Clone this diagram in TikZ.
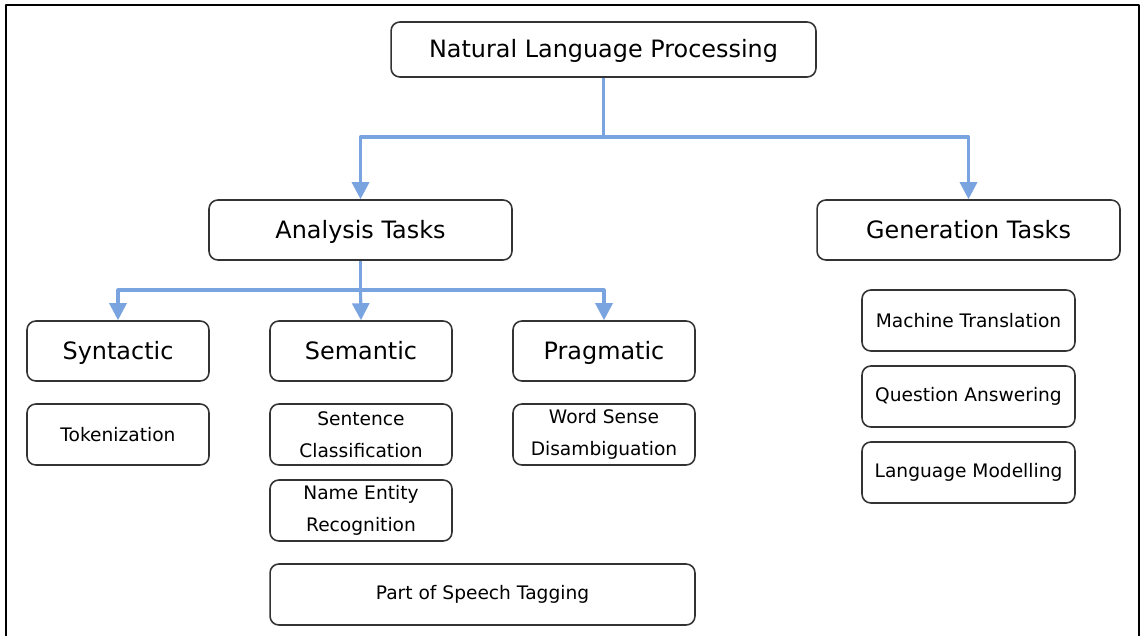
\documentclass[tikz,border=0pt]{standalone}
\usepackage{fontspec}
\setmainfont{DejaVu Sans}
\usetikzlibrary{arrows.meta}
\definecolor{linkblue}{RGB}{122,164,224}
\begin{document}
\begin{tikzpicture}[x=0.02cm,y=-0.02cm,line join=round,
    >={Triangle[width=0.34cm,length=0.34cm]},
    box/.style={draw=black!80,line width=0.9pt,rounded corners=5pt,inner sep=0pt,align=center},
    bigbox/.style={box,minimum width=3.64cm,minimum height=1.2cm,text height=2ex,text depth=0.3ex,font=\fontsize{13.6}{16}\selectfont},
    smallbox/.style={box,minimum width=3.64cm,minimum height=1.22cm,font=\fontsize{10.6}{18}\selectfont},
    genbox/.style={smallbox,minimum width=4.26cm},
    link/.style={draw=linkblue,line width=1.8pt,->}]
	\useasboundingbox (0,0) rectangle (1141,635);
	\draw[line width=1.4pt] (6,640)--(6,5)--(1139,5)--(1139,640);
	% top level
	\node[bigbox,minimum width=8.5cm,minimum height=1.1cm] (nlp) at (603.5,49.5) {Natural Language Processing};
	\node[bigbox,minimum width=6.06cm] (ana) at (360.5,230) {Analysis Tasks};
	\node[bigbox,minimum width=6.06cm] (gen) at (968.5,230) {Generation Tasks};
	% analysis
	\node[bigbox] (syn) at (118,351) {Syntactic};
	\node[bigbox] (sem) at (361,351) {Semantic};
	\node[bigbox] (prag) at (604,351) {Pragmatic};
	\node[smallbox] (tok) at (118,434.5) {Tokenization};
	\node[smallbox] (sent) at (361,434.5) {Sentence\\Classification};
	\node[smallbox] (wsd) at (604,434.5) {Word Sense\\Disambiguation};
	\node[smallbox] (ner) at (361,510.5) {Name Entity\\Recognition};
	\node[smallbox,minimum width=8.5cm] (pos) at (482.5,594.5) {Part of Speech Tagging};
	% generation
	\node[genbox] (mt) at (968.5,320.5) {Machine Translation};
	\node[genbox] (qa) at (968.5,396.5) {Question Answering};
	\node[genbox] (lm) at (968.5,472.5) {Language Modelling};
	% connectors
	\coordinate (j1) at (603.5,137);
	\coordinate (j2) at (360.5,290);
	\draw[link] (nlp.south) -- (j1) -| (ana.north);
	\draw[link] (j1) -| (gen.north);
	\draw[link] (ana.south) -- (j2) -| (syn.north);
	\draw[link] (j2) -- (sem.north);
	\draw[link] (j2) -| (prag.north);
\end{tikzpicture}
\end{document}
